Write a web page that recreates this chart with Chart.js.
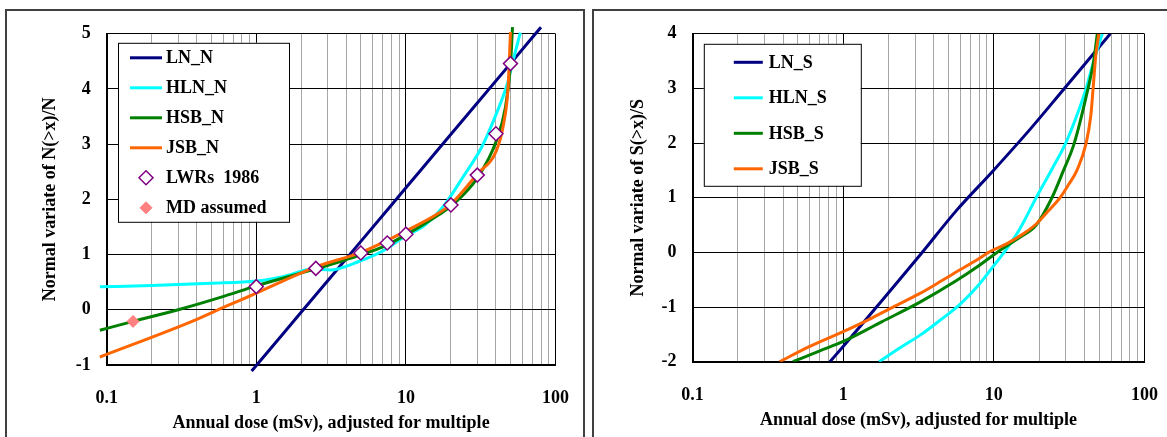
<!DOCTYPE html>
<html>
<head>
<meta charset="utf-8">
<script src="https://cdn.jsdelivr.net/npm/chart.js@4/dist/chart.umd.min.js"></script>
<style>
  body { margin: 0; background: #fff; width: 1167px; height: 437px; overflow: hidden; position: relative; }
  .frame { position: absolute; border: 2px solid #404040; box-sizing: border-box; }
  #f1 { left: 5px; top: 9px; width: 580px; height: 460px; }
  #f2 { left: 592px; top: 9px; width: 700px; height: 460px; }
  canvas { position: absolute; }
  #c1 { left: 8px; top: 12px; }
  #c2 { left: 596px; top: 12px; }
</style>
</head>
<body>
<div class="frame" id="f1"></div>
<div class="frame" id="f2"></div>
<canvas id="c1" width="574" height="425"></canvas>
<canvas id="c2" width="571" height="425"></canvas>
<script>
// x axis (log) gridlines and labels
const xGrid = [0.1, 0.2, 0.3, 0.4, 0.5, 0.6, 0.7, 0.8, 0.9,
  1, 2, 3, 4, 5, 6, 7, 8, 9,
  10, 20, 30, 40, 50, 60, 70, 80, 90, 100]
const xMajor = [0.1, 1, 10, 100]
const xMajorLabels = ['0.1', '1', '10', '100']

// left chart: N
const lnNx = [0.93, 1, 2, 5, 10, 20, 50, 80]
const lnNy = [-1.11, -1.01, -0.04, 1.24, 2.21, 3.18, 4.46, 5.12]
const hlnNx = [0.09, 0.2, 0.5, 1, 1.5, 2.4, 3.1, 4.9, 7.05, 9.6, 13.6, 18.1, 24, 32, 40.2, 47.6, 53.5, 58.2]
const hlnNy = [0.416, 0.44, 0.48, 0.52, 0.6, 0.737, 0.72, 0.88, 1.07, 1.31, 1.55, 1.9, 2.4, 2.94, 3.55, 4.09, 4.64, 5.02]
const hsbNx = [0.09, 0.148, 0.309, 0.59, 1, 2.46, 5, 7.26, 10.2, 16.1, 20.3, 30.2, 40.2, 46.3, 49.9, 51.6]
const hsbNy = [-0.37, -0.214, 0.01, 0.234, 0.434, 0.736, 0.996, 1.16, 1.37, 1.7, 1.89, 2.4, 3.06, 3.67, 4.4, 5.12]
const jsbNx = [0.09, 0.379, 0.634, 0.906, 2.46, 5, 7.26, 10.2, 16.1, 20.3, 30.2, 40.2, 45, 48.2, 50]
const jsbNy = [-0.855, -0.2, 0.07, 0.25, 0.77, 1.04, 1.24, 1.44, 1.73, 1.93, 2.47, 2.88, 3.37, 4.03, 5.03]
const lwrX = [1, 2.5, 5, 7.5, 10, 20, 30, 40, 50]
const lwrY = [0.42, 0.75, 1.03, 1.21, 1.37, 1.9, 2.44, 3.19, 4.46]
const mdX = [0.15]
const mdY = [-0.21]

// right chart: S
const lnSx = [0.817, 1, 3.28, 5.62, 9.94, 17.5, 29.2, 59.3]
const lnSy = [-2, -1.72, -0.03, 0.76, 1.5, 2.26, 2.99, 4.0]
const hlnSx = [1.73, 2.4, 3.3, 4.5, 5.96, 7.9, 9.94, 11.7, 14.8, 19.1, 24.6, 30, 35.5, 41, 46, 52.4]
const hlnSy = [-2, -1.74, -1.5, -1.22, -0.95, -0.6, -0.25, 0, 0.42, 1.0, 1.55, 2.0, 2.5, 3.0, 3.5, 4.0]
const hsbSx = [0.464, 0.7, 1.0, 1.8, 3.19, 5.62, 7.9, 10.5, 14.8, 19.1, 24.3, 29, 34.2, 42.2, 46, 48.6]
const hsbSy = [-2, -1.8, -1.63, -1.27, -0.92, -0.52, -0.25, 0, 0.27, 0.5, 1.0, 1.5, 2.0, 3.0, 3.5, 4.0]
const jsbSx = [0.379, 0.6, 1.0, 1.5, 2.14, 3.19, 4.5, 5.62, 7.9, 9.5, 12.4, 15.5, 19.1, 23.2, 27.5, 31.5, 35.6, 41, 44, 45.6, 47.5, 49.8]
const jsbSy = [-2, -1.72, -1.45, -1.22, -1.0, -0.76, -0.52, -0.36, -0.12, 0.02, 0.17, 0.33, 0.52, 0.77, 1.0, 1.25, 1.5, 2.0, 2.5, 3.0, 3.6, 4.0]

const pts = (xs, ys) => xs.map((x, i) => ({ x: x, y: ys[i] }))
const FONT = { family: 'Liberation Serif', size: 18, weight: 'bold', lineHeight: 1.2 }

const lineSet = (label, xs, ys, color, order, clip) => ({
  label, data: pts(xs, ys), showLine: true, borderColor: color, backgroundColor: color,
  borderWidth: 3, pointRadius: 0, cubicInterpolationMode: 'monotone', order, clip
})

// legend box drawn inside the plot, like the spreadsheet one
const boxLegend = {
  id: 'boxLegend',
  afterDraw(chart, args, o) {
    const ctx = chart.ctx
    const bx = chart.chartArea.left + o.dx
    const by = chart.chartArea.top + o.dy
    ctx.save()
    ctx.fillStyle = '#fff'
    ctx.fillRect(bx, by, o.w, o.h)
    ctx.strokeStyle = '#000'
    ctx.lineWidth = 1
    ctx.strokeRect(bx + 0.5, by + 0.5, o.w, o.h)
    ctx.font = 'bold 18px "Liberation Serif"'
    ctx.textBaseline = 'middle'
    ctx.textAlign = 'left'
    chart.data.datasets.forEach((ds, i) => {
      const cy = by + o.first + i * o.step
      if (ds.showLine) {
        ctx.strokeStyle = ds.borderColor
        ctx.lineWidth = 3
        ctx.beginPath()
        ctx.moveTo(bx + o.lineX0, cy)
        ctx.lineTo(bx + o.lineX1, cy)
        ctx.stroke()
      } else {
        const cx = bx + (o.lineX0 + o.lineX1) / 2
        const r = ds.pointRadius
        ctx.beginPath()
        ctx.moveTo(cx, cy - r); ctx.lineTo(cx + r, cy); ctx.lineTo(cx, cy + r); ctx.lineTo(cx - r, cy)
        ctx.closePath()
        ctx.fillStyle = ds.backgroundColor
        ctx.fill()
        ctx.strokeStyle = ds.borderColor
        ctx.lineWidth = ds.borderWidth
        ctx.stroke()
      }
      ctx.fillStyle = '#000'
      ctx.fillText(ds.label, bx + o.textX, cy + 1)
    })
    ctx.restore()
  }
}

function chartConfig(datasets, yMin, yMax, yTitle, lay, legend) {
  return {
    type: 'scatter',
    data: { datasets },
    plugins: [boxLegend],
    options: {
      responsive: false,
      maintainAspectRatio: false,
      animation: false,
      layout: { padding: { top: 10, right: 10, left: 0, bottom: 0 } },
      plugins: { legend: { display: false }, tooltip: { enabled: false }, boxLegend: legend },
      scales: {
        x: {
          type: 'logarithmic', min: 0.1, max: 100,
          afterBuildTicks: (s) => { s.ticks = xGrid.map(v => ({ value: v })) },
          afterFit: (s) => { s.height = lay.xH },
          ticks: {
            autoSkip: false, maxRotation: 0, padding: 23, color: '#000', font: FONT,
            callback: (v) => { const k = xMajor.indexOf(v); return k >= 0 ? xMajorLabels[k] : '' }
          },
          grid: {
            drawTicks: false, lineWidth: 1,
            color: (c) => (c.tick && xMajor.includes(c.tick.value)) ? '#000' : '#a6a6a6'
          },
          border: { color: '#000', width: 2 },
          title: { display: true, text: 'Annual dose (mSv), adjusted for multiple', color: '#000', font: FONT, padding: { top: 0, bottom: lay.xTitlePad } }
        },
        y: {
          min: yMin, max: yMax,
          afterFit: (s) => { s.width = lay.yW },
          ticks: { stepSize: 1, padding: 16, color: '#000', font: FONT },
          grid: { drawTicks: false, color: '#000', lineWidth: 1 },
          border: { color: '#000', width: 2 },
          title: { display: true, text: yTitle, color: '#000', font: FONT, padding: { top: lay.yTitlePad, bottom: 0 } }
        }
      }
    }
  }
}

// build once, measure the gaps round the plot area, then size and place
// the canvas so that the plot area lands on the target page box
function placeChart(id, cfg, target) {
  const canvas = document.getElementById(id)
  let chart = new Chart(canvas, cfg())
  const a = chart.chartArea
  const gapL = a.left, gapT = a.top
  const gapR = canvas.width - a.right, gapB = canvas.height - a.bottom
  chart.destroy()
  canvas.width = Math.round(gapL + (target.right - target.left) + gapR)
  canvas.height = Math.round(gapT + (target.bottom - target.top) + gapB)
  canvas.style.left = (target.left - gapL) + 'px'
  canvas.style.top = (target.top - gapT) + 'px'
  return new Chart(canvas, cfg())
}

placeChart('c1', () => chartConfig([
  lineSet('LN_N', lnNx, lnNy, '#000080', 5, false),
  lineSet('HLN_N', hlnNx, hlnNy, '#00ffff', 4, false),
  lineSet('HSB_N', hsbNx, hsbNy, '#008000', 3, false),
  lineSet('JSB_N', jsbNx, jsbNy, '#ff6600', 2, false),
  { label: 'LWRs  1986', data: pts(lwrX, lwrY), showLine: false, pointStyle: 'rectRot', pointRadius: 7,
    borderColor: '#800080', backgroundColor: '#fff', borderWidth: 1.5, order: 0, clip: false },
  { label: 'MD assumed', data: pts(mdX, mdY), showLine: false, pointStyle: 'rectRot', pointRadius: 6,
    borderColor: '#ff8080', backgroundColor: '#ff8080', borderWidth: 1, order: 1, clip: false }
], -1, 5, 'Normal variate of N(>x)/N',
  { xH: 73, yW: 98.7, xTitlePad: 4, yTitlePad: 32 },
  { dx: 11.3, dy: 9, w: 171, h: 179, first: 15, step: 30, lineX0: 12, lineX1: 44, textX: 48 }),
  { left: 106.7, right: 555.7, top: 33.3, bottom: 364 })

placeChart('c2', () => chartConfig([
  lineSet('LN_S', lnSx, lnSy, '#000080', 5),
  lineSet('HLN_S', hlnSx, hlnSy, '#00ffff', 4),
  lineSet('HSB_S', hsbSx, hsbSy, '#008000', 3),
  lineSet('JSB_S', jsbSx, jsbSy, '#ff6600', 2)
], -2, 4, 'Normal variate of S(>x)/S',
  { xH: 76.3, yW: 96.5, xTitlePad: 7, yTitlePad: 32 },
  { dx: 11.3, dy: 10, w: 157, h: 142, first: 18.5, step: 35.5, lineX0: 30, lineX1: 59, textX: 65 }),
  { left: 692.5, right: 1144, top: 33.3, bottom: 360.7 })
</script>
</body>
</html>
